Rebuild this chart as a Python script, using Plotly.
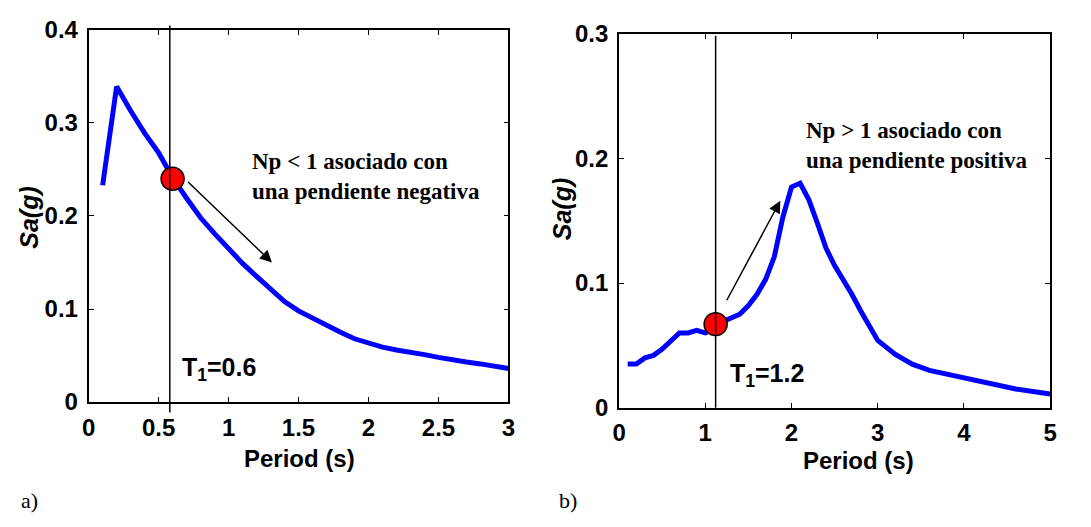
import plotly.graph_objects as go

# ---- data ----
period_a = [0.1, 0.2, 0.3, 0.4, 0.5, 0.6, 0.7, 0.8, 0.9, 1.0, 1.1, 1.2, 1.3, 1.4, 1.5,
            1.6, 1.7, 1.8, 1.9, 2.0, 2.1, 2.2, 2.3, 2.4, 2.5, 2.6, 2.7, 2.8, 2.9, 3.0]
sa_a = [0.233, 0.339, 0.313, 0.289, 0.268, 0.241, 0.219, 0.198, 0.181, 0.165, 0.149, 0.135,
        0.121, 0.108, 0.098, 0.090, 0.082, 0.075, 0.068, 0.063, 0.059, 0.056, 0.054, 0.051,
        0.048, 0.045, 0.043, 0.041, 0.039, 0.036]

period_b = [0.1, 0.2, 0.3, 0.4, 0.5, 0.6, 0.7, 0.8, 0.9, 1.0, 1.1, 1.2, 1.3, 1.4, 1.5, 1.6,
            1.7, 1.8, 1.9, 2.0, 2.1, 2.2, 2.3, 2.4, 2.5, 2.6, 2.7, 2.8, 2.9, 3.0, 3.2, 3.4,
            3.6, 3.8, 4.0, 4.2, 4.4, 4.6, 4.8, 5.0]
sa_b = [0.035, 0.035, 0.040, 0.042, 0.047, 0.053, 0.060, 0.060, 0.062, 0.060, 0.063, 0.069,
        0.072, 0.075, 0.082, 0.091, 0.103, 0.121, 0.153, 0.177, 0.180, 0.167, 0.148, 0.128,
        0.114, 0.103, 0.091, 0.078, 0.065, 0.054, 0.043, 0.035, 0.030, 0.027, 0.024, 0.020,
        0.017, 0.015, 0.013, 0.011]

t1_a, sa_t1_a = 0.58, 0.240
t1_b, sa_t1_b = 1.12, 0.067

xticks_a = [0, 0.5, 1, 1.5, 2, 2.5, 3]
yticks_a = [0, 0.1, 0.2, 0.3, 0.4]
xticks_b = [0, 1, 2, 3, 4, 5]
yticks_b = [0, 0.1, 0.2, 0.3]

text_a = "Np < 1 asociado con<br>una pendiente negativa"
text_b = "Np > 1 asociado con<br>una pendiente positiva"
label_a = "T<sub>1</sub>=0.6"
label_b = "T<sub>1</sub>=1.2"

BLUE = "#0000FF"
SANS = "Liberation Sans, Arial, sans-serif"
SERIF = "Liberation Serif, Times New Roman, serif"

fig = go.Figure()
fig.add_trace(go.Scatter(x=period_a, y=sa_a, mode="lines", line=dict(color=BLUE, width=5),
                         xaxis="x", yaxis="y", showlegend=False))
fig.add_trace(go.Scatter(x=[t1_a + 0.02], y=[sa_t1_a], mode="markers",
                         marker=dict(color="#FF0000", size=23, line=dict(color="black", width=1.5)),
                         xaxis="x", yaxis="y", showlegend=False, cliponaxis=False))
fig.add_trace(go.Scatter(x=period_b, y=sa_b, mode="lines", line=dict(color=BLUE, width=5),
                         xaxis="x2", yaxis="y2", showlegend=False))
fig.add_trace(go.Scatter(x=[t1_b], y=[sa_t1_b], mode="markers",
                         marker=dict(color="#FF0000", size=23, line=dict(color="black", width=1.5)),
                         xaxis="x2", yaxis="y2", showlegend=False, cliponaxis=False))

axis_common = dict(showline=True, linecolor="black", linewidth=1.8, mirror="ticks",
                   ticks="inside", ticklen=5, tickwidth=1, tickcolor="black",
                   showgrid=False, zeroline=False,
                   tickfont=dict(family=SANS, size=24, color="black", weight="bold"))

fig.update_layout(
    width=1091, height=527,
    margin=dict(l=0, r=0, t=0, b=0),
    paper_bgcolor="white", plot_bgcolor="white",
    xaxis=dict(axis_common, domain=[0.0758, 0.4656], range=[0, 3], tickvals=xticks_a,
               ticktext=[f"{v:g}" for v in xticks_a], anchor="y", ticklabelstandoff=3),
    yaxis=dict(axis_common, domain=[0.2239, 0.9683], range=[0, 0.4], tickvals=yticks_a,
               ticktext=[f"{v:g}" for v in yticks_a], anchor="x", ticklabelstandoff=4),
    xaxis2=dict(axis_common, domain=[0.5683, 0.9686], range=[0, 5], tickvals=xticks_b,
                ticktext=[f"{v:g}" for v in xticks_b], anchor="y2", ticklabelstandoff=3),
    yaxis2=dict(axis_common, domain=[0.2125, 0.9607], range=[0, 0.3], tickvals=yticks_b,
                ticktext=[f"{v:g}" for v in yticks_b], anchor="x2", ticklabelstandoff=4),
)

# vertical T1 lines
fig.add_shape(type="line", xref="x", yref="paper", x0=t1_a, x1=t1_a,
              y0=1 - 420 / 527, y1=1 - 12 / 527, line=dict(color="black", width=1.5))
fig.add_shape(type="line", xref="x2", yref="paper", x0=t1_b, x1=t1_b,
              y0=1 - 415 / 527, y1=1 - 23 / 527, line=dict(color="black", width=1.5))

annos = []
# arrows
annos.append(dict(x=1.31, y=0.150, ax=0.70, ay=0.238, xref="x", yref="y", axref="x", ayref="y",
                  text="", showarrow=True, arrowhead=2, arrowsize=1.6, arrowwidth=1.5,
                  arrowcolor="black"))
annos.append(dict(x=1.87, y=0.166, ax=1.24, ay=0.085, xref="x2", yref="y2", axref="x2", ayref="y2",
                  text="", showarrow=True, arrowhead=2, arrowsize=1.6, arrowwidth=1.5,
                  arrowcolor="black"))
# text annotations
annos.append(dict(x=1.15, y=0.242, xref="x", yref="y", text=text_a, showarrow=False,
                  xanchor="left", yanchor="middle", align="left",
                  font=dict(family=SERIF, size=23, color="black", weight="bold")))
annos.append(dict(x=2.15, y=0.210, xref="x2", yref="y2", text=text_b, showarrow=False,
                  xanchor="left", yanchor="middle", align="left",
                  font=dict(family=SERIF, size=23, color="black", weight="bold")))
annos.append(dict(x=0.65, y=0.036, xref="x", yref="y", text=label_a, showarrow=False,
                  xanchor="left", yanchor="middle",
                  font=dict(family=SANS, size=25, color="black", weight="bold")))
annos.append(dict(x=1.26, y=0.026, xref="x2", yref="y2", text=label_b, showarrow=False,
                  xanchor="left", yanchor="middle",
                  font=dict(family=SANS, size=25, color="black", weight="bold")))
# axis titles
annos.append(dict(x=296 / 1091, y=1 - 468 / 527, xref="paper", yref="paper", text="Period (s)",
                  showarrow=False, xanchor="center", yanchor="middle",
                  font=dict(family=SANS, size=24, color="black", weight="bold")))
annos.append(dict(x=863 / 1091, y=1 - 471 / 527, xref="paper", yref="paper", text="Period (s)",
                  showarrow=False, xanchor="center", yanchor="middle",
                  font=dict(family=SANS, size=24, color="black", weight="bold")))
annos.append(dict(x=22 / 1091, y=1 - 214 / 527, xref="paper", yref="paper", text="<i>Sa(g)</i>",
                  showarrow=False, xanchor="center", yanchor="middle", textangle=-90,
                  font=dict(family=SANS, size=25, color="black", weight="bold")))
annos.append(dict(x=563 / 1091, y=1 - 205 / 527, xref="paper", yref="paper", text="<i>Sa(g)</i>",
                  showarrow=False, xanchor="center", yanchor="middle", textangle=-90,
                  font=dict(family=SANS, size=25, color="black", weight="bold")))
# panel labels
annos.append(dict(x=12 / 1091, y=1 - 513 / 527, xref="paper", yref="paper", text="a)",
                  showarrow=False, xanchor="left", yanchor="middle",
                  font=dict(family=SERIF, size=22, color="black")))
annos.append(dict(x=557 / 1091, y=1 - 513 / 527, xref="paper", yref="paper", text="b)",
                  showarrow=False, xanchor="left", yanchor="middle",
                  font=dict(family=SERIF, size=22, color="black")))
fig.update_layout(annotations=annos)

fig.write_html("out.html")
